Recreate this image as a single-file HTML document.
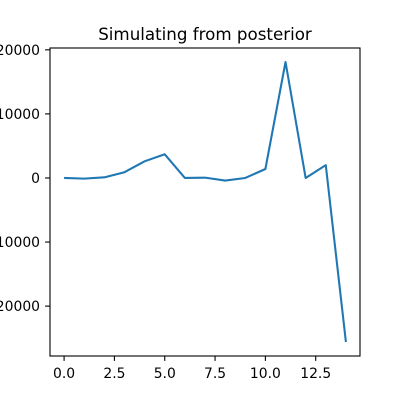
<!DOCTYPE html>
<html><head><meta charset="utf-8"><style>body{margin:0;background:#fff}svg{display:block}text{font-family:"DejaVu Sans","Liberation Sans",sans-serif;font-size:13.9px;fill:#000}</style></head>
<body>
<svg id="chart" width="400" height="400">
<text x="205" y="40" text-anchor="middle" style="font-size:16.7px">Simulating from posterior</text>
<g id="grid"></g>
<path id="line" fill="none" stroke="#1f77b4" stroke-width="2.08" stroke-linejoin="round"></path>
<rect x="50" y="48" width="310" height="308" fill="none" stroke="#000" stroke-width="1.1"></rect>
</svg>
<script>
const xValues = [0,1,2,3,4,5,6,7,8,9,10,11,12,13,14];
const yValues = [0,-100,100,900,2600,3700,0,50,-400,0,1400,18100,0,2000,-25600];
const xTicks = [0,2.5,5,7.5,10,12.5];
const xTickLabels = ["0.0","2.5","5.0","7.5","10.0","12.5"];
const yTicks = [-20000,-10000,0,10000,20000];
const yTickLabels = ["\u221220000","\u221210000","0","10000","20000"];
const L=50,R=360,T=48,B=356;
const xmin=-0.7,xmax=14.7;
const ymin=-27785,ymax=20285;
const sx=v=>L+(v-xmin)/(xmax-xmin)*(R-L);
const sy=v=>B-(v-ymin)/(ymax-ymin)*(B-T);
const ns="http://www.w3.org/2000/svg";
const g=document.getElementById('grid');
function mk(tag,attrs){const e=document.createElementNS(ns,tag);for(const k in attrs)e.setAttribute(k,attrs[k]);g.appendChild(e);return e;}
xTicks.forEach((t,i)=>{
  const l=mk('line',{x1:sx(t),x2:sx(t),y1:B,y2:B+4.9,stroke:'#000','stroke-width':1.1});
  
  
  const tx=mk('text',{x:sx(t),y:B+22,'text-anchor':'middle'});
  tx.textContent=xTickLabels[i];
  
  
});
yTicks.forEach((t,i)=>{
  const l=mk('line',{x1:L-4.9,x2:L,y1:sy(t),y2:sy(t),stroke:'#000','stroke-width':1.1});
  
  
  const tx=mk('text',{x:L-10,y:sy(t)+5,'text-anchor':'end'});
  tx.textContent=yTickLabels[i];
  
  
});
document.getElementById('line').setAttribute('d',xValues.map((x,i)=>(i?'L':'M')+sx(x).toFixed(2)+','+sy(yValues[i]).toFixed(2)).join(''));
</script>
</body></html>
